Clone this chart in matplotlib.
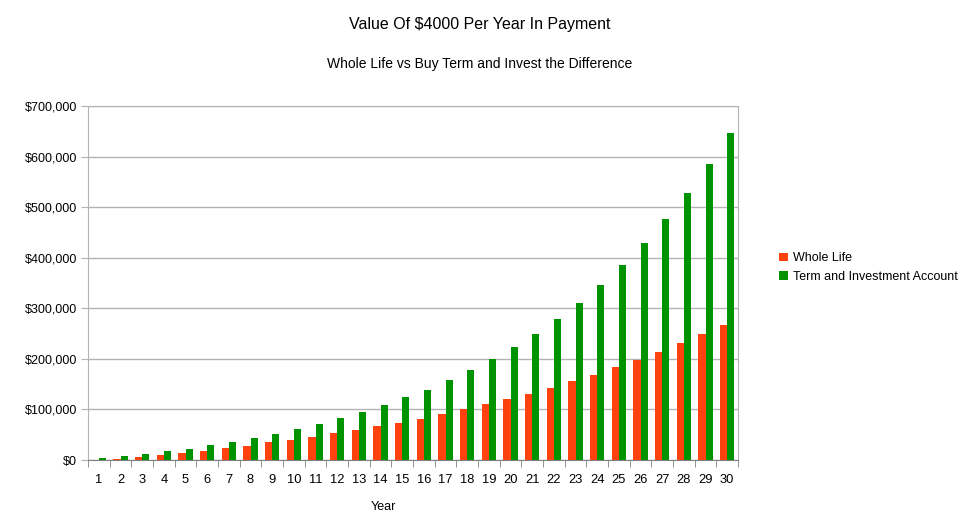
import numpy as np
import matplotlib.pyplot as plt
from matplotlib.ticker import FuncFormatter, MultipleLocator

plt.rcParams['font.family'] = ['Liberation Sans', 'DejaVu Sans']

# values (dollars)
years = list(range(1, 31))
whole_life = [500, 2000, 6600, 10500, 14500, 18500, 23000, 28000, 35000, 40000,
              46000, 54000, 60000, 67600, 73600, 82000, 91000, 100000, 110000, 120000,
              131000, 143000, 156000, 169000, 183000, 198000, 214000, 230600, 248500, 267000]
term_invest = [3000, 7000, 12000, 17000, 22500, 29000, 36000, 44000, 52000, 62000,
               72000, 83000, 95000, 109000, 124000, 139000, 158000, 178000, 199000, 224000,
               250000, 279000, 311000, 347000, 386000, 429000, 476000, 527000, 585000, 647000]

red = '#ff420e'
green = '#009300'

fig = plt.figure(figsize=(9.68, 5.17), dpi=100)
ax = fig.add_axes([88 / 968, 1 - 460 / 517, 650 / 968, 354 / 517])

x = np.arange(len(years))
w = 0.33
ax.bar(x - w / 2, whole_life, width=w, color=red, label='Whole Life', zorder=3)
ax.bar(x + w / 2, term_invest, width=w, color=green, label='Term and Investment Account', zorder=3)

ax.set_xlim(-0.5, len(years) - 0.5)
ax.set_ylim(0, 700000)
ax.yaxis.set_major_locator(MultipleLocator(100000))
ax.yaxis.set_major_formatter(FuncFormatter(lambda v, p: '${:,.0f}'.format(v)))
ax.grid(axis='y', color='#b3b3b3', linewidth=1, zorder=0)

# category labels centred, tick marks on category boundaries
ax.set_xticks(x)
ax.set_xticklabels([str(y) for y in years])
ax.tick_params(axis='x', which='major', length=0, pad=10, labelsize=9.3)
ax.set_xticks(np.arange(-0.5, len(years)), minor=True)
ax.tick_params(axis='x', which='minor', length=5, color='#808080')
ax.tick_params(axis='y', length=5, color='#b3b3b3', labelsize=9, pad=3)

for s in ['left', 'right', 'top']:
    ax.spines[s].set_color('#b3b3b3')
ax.spines['bottom'].set_color('#808080')

fig.text(383 / 968, 1 - 507 / 517, 'Year', ha='center', va='center', fontsize=9)

fig.text(0.4955, 1 - 25 / 517, 'Value Of $4000 Per Year In Payment', ha='center', va='center', fontsize=11.5)
fig.text(0.4955, 1 - 64 / 517, 'Whole Life vs Buy Term and Invest the Difference', ha='center', va='center', fontsize=10)

fig.legend(loc='upper left', bbox_to_anchor=(768 / 968, 1 - 241 / 517), frameon=False,
           fontsize=9, handlelength=0.7, handleheight=0.7, handletextpad=0.4, labelspacing=0.5)

fig.savefig('out.png', dpi=100)
